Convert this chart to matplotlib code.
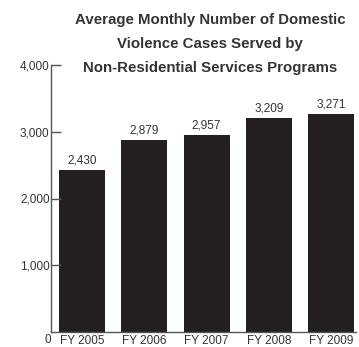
import matplotlib
matplotlib.use("Agg")
import matplotlib.pyplot as plt

years = ["FY 2005", "FY 2006", "FY 2007", "FY 2008", "FY 2009"]
cases = [2430, 2879, 2957, 3209, 3271]
yticks = [0, 1000, 2000, 3000, 4000]
title = "Average Monthly Number of Domestic\nViolence Cases Served by\nNon-Residential Services Programs"

plt.rcParams["font.family"] = ["Liberation Sans", "DejaVu Sans"]

text_color = "#333333"
bar_color = "#231f20"
axis_color = "#555555"

fig = plt.figure(figsize=(3.59, 3.47), dpi=100)
ax = fig.add_axes([51 / 359, 15 / 347, 305 / 359, 267 / 347])

x = range(len(years))
ax.bar(x, cases, width=0.74, color=bar_color)
for xi, v in zip(x, cases):
    ax.text(xi, v + 45, f"{v:,}", ha="center", va="bottom", fontsize=8.5, color=text_color)

ax.set_ylim(0, 4000)
ax.set_xlim(-0.5, 4.4)
ax.set_yticks(yticks[1:])
ax.set_yticklabels([f"{t:,}" for t in yticks[1:]], fontsize=8.5, color=text_color)
# zero label sits just below the baseline, tucked against the axis
ax.text(0.0, -0.03, f"{yticks[0]:,}", transform=ax.transAxes, ha="right", va="center",
        fontsize=8.5, color=text_color)
ax.tick_params(axis="y", direction="in", length=7, width=1, color=axis_color, pad=1)
ax.set_xticks(list(x))
ax.set_xticklabels(years, fontsize=8.5, color=text_color)
ax.tick_params(axis="x", length=0, pad=2)

for s in ["top", "right"]:
    ax.spines[s].set_visible(False)
for s in ["left", "bottom"]:
    ax.spines[s].set_color(axis_color)
    ax.spines[s].set_linewidth(1)

fig.text(210 / 359, 1 - 13 / 347, title, ha="center", va="top", fontsize=10.8,
         fontweight="bold", color=text_color, linespacing=1.92)

fig.savefig("out.png", dpi=100)
